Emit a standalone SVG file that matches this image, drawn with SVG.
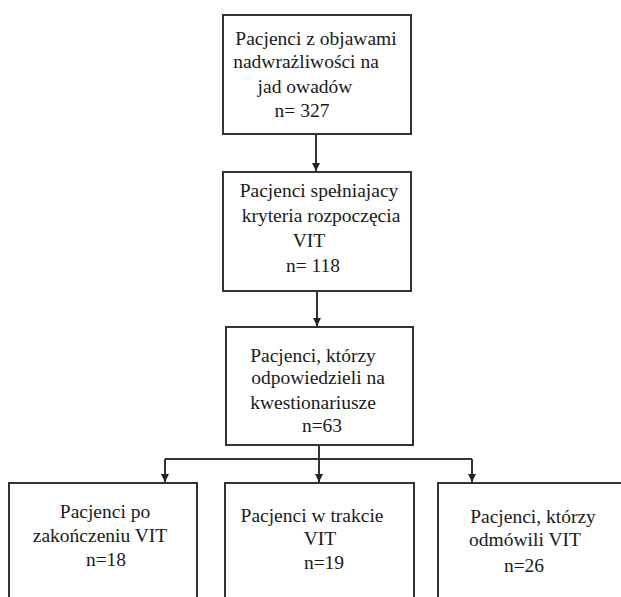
<svg xmlns="http://www.w3.org/2000/svg" width="621" height="597" viewBox="0 0 621 597">
<defs>
<style>
.box{fill:#fff;stroke:#333;stroke-width:2}
.t{font-size:19.5px;fill:#1a1a1a;text-anchor:middle}
.c{fill:none;stroke:#333;stroke-width:2}
</style>
<marker id="ah" markerWidth="10" markerHeight="10" refX="9" refY="5" orient="auto" markerUnits="userSpaceOnUse">
<path d="M1,1 L9,5 L1,9 Z" fill="#222"/>
</marker>
</defs>
<rect width="621" height="597" fill="#fff"/>
<g id="connectors">
<path class="c" d="M316,134 V171" marker-end="url(#ah)"/>
<path class="c" d="M317,291 V326" marker-end="url(#ah)"/>
<path class="c" d="M319,445 V459"/>
<path class="c" d="M165,459 H472"/>
<path class="c" d="M165,459 V482" marker-end="url(#ah)"/>
<path class="c" d="M319,459 V482" marker-end="url(#ah)"/>
<path class="c" d="M472,459 V482" marker-end="url(#ah)"/>
</g>
<g font-family="'Liberation Serif', 'DejaVu Serif', serif">
<g id="node1">
<rect class="box" x="223" y="15" width="188" height="119"/>
<text class="t" x="316" y="45">Pacjenci z objawami</text>
<text class="t" x="306" y="68">nadwrażliwości na</text>
<text class="t" x="305" y="93">jad owadów</text>
<text class="t" x="302" y="117">n= 327</text>
</g>
<g id="node2">
<rect class="box" x="223" y="172" width="188" height="119"/>
<text class="t" x="319" y="197">Pacjenci spełniajacy</text>
<text class="t" x="321" y="222">kryteria rozpoczęcia</text>
<text class="t" x="309" y="247">VIT</text>
<text class="t" x="313" y="272">n= 118</text>
</g>
<g id="node3">
<rect class="box" x="226" y="327" width="187" height="118"/>
<text class="t" x="313" y="362">Pacjenci, którzy</text>
<text class="t" x="318" y="384">odpowiedzieli na</text>
<text class="t" x="313" y="409">kwestionariusze</text>
<text class="t" x="322" y="432">n=63</text>
</g>
<g id="node4">
<rect class="box" x="9" y="483" width="188" height="130"/>
<text class="t" x="105" y="518">Pacjenci po</text>
<text class="t" x="100" y="542">zakończeniu VIT</text>
<text class="t" x="106" y="566">n=18</text>
</g>
<g id="node5">
<rect class="box" x="225" y="483" width="189" height="130"/>
<text class="t" x="312" y="522">Pacjenci w trakcie</text>
<text class="t" x="320" y="545">VIT</text>
<text class="t" x="324" y="569">n=19</text>
</g>
<g id="node6">
<rect class="box" x="438" y="483" width="200" height="130"/>
<text class="t" x="533" y="523">Pacjenci, którzy</text>
<text class="t" x="525" y="546">odmówili VIT</text>
<text class="t" x="524" y="572">n=26</text>
</g>
</g>
</svg>
